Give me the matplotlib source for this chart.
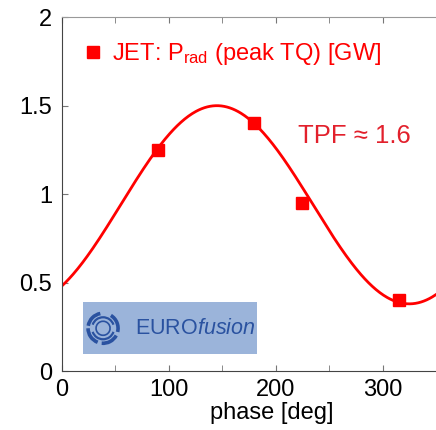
import numpy as np
import matplotlib
matplotlib.use("Agg")
import matplotlib.pyplot as plt
from matplotlib.patches import Rectangle, Arc

plt.rcParams['font.family'] = 'Liberation Sans'
plt.rcParams['mathtext.fontset'] = 'custom'
plt.rcParams['mathtext.rm'] = 'Liberation Sans'
plt.rcParams['mathtext.it'] = 'Liberation Sans:italic'

# measured points (JET, radiated power at peak TQ)
phase = [90, 180, 225, 315]
prad = [1.25, 1.40, 0.95, 0.40]

# sinusoidal fit: mean, amplitude, phase of maximum
fit_mean = 0.94
fit_amp = 0.56
fit_peak = 145

x_fit = np.linspace(0, 350, 400)
y_fit = fit_mean + fit_amp * np.cos(np.radians(x_fit - fit_peak))

fig = plt.figure(figsize=(4.36, 4.30), dpi=100)
ax = fig.add_axes([0.142, 0.137, 0.858, 0.823])

ax.plot(x_fit, y_fit, color='red', lw=2)
ax.plot(phase, prad, 's', color='red', markersize=8.5, ls='none',
        label=r'JET: P$_{\rm rad}$ (peak TQ) [GW]')

ax.set_xlim(0, 350)
ax.set_ylim(0, 2)
ax.set_xticks([0, 100, 200, 300])
ax.set_xticks([50, 150, 250, 350], minor=True)
ax.set_yticks([0, 0.5, 1, 1.5, 2])
ax.set_yticklabels(['0', '0.5', '1', '1.5', '2'])
ax.tick_params(axis='both', which='both', direction='in', length=4,
               color='#777777', labelsize=17, top=True, right=False)
ax.tick_params(axis='x', pad=6)
ax.tick_params(axis='y', pad=7)
for s in ['left', 'bottom']:
    ax.spines[s].set_color('#444444')
ax.spines['top'].set_color('#999999')
ax.spines['right'].set_visible(False)

ax.set_xlabel('phase [deg]', fontsize=17)
ax.xaxis.set_label_coords(0.56, -0.118)
ax.xaxis.label.set_va('center')

leg = ax.legend(loc='upper left', bbox_to_anchor=(0.015, 0.98), frameon=False,
                fontsize=17, labelcolor='red', handlelength=0.8,
                handletextpad=0.4, borderaxespad=0.3)

ax.text(0.63, 0.665, 'TPF \u2248 1.6', transform=ax.transAxes,
        fontsize=18.5, color='#e2202c', va='center', ha='left')

# EUROfusion logo box
ax.add_patch(Rectangle((0.056, 0.048), 0.465, 0.147, transform=ax.transAxes,
                       facecolor='#9bb4da', edgecolor='none', zorder=3))
ax.text(0.196, 0.121, r'EURO$\it{fusion}$', transform=ax.transAxes,
        fontsize=15.5, color='#2a52a0', va='center', ha='left', zorder=4)
cx, cy = 0.110, 0.121
sx, sy = 1 / 374, 1 / 354
logo_col = '#2a52a0'
for r, segs, lw in [(15, [(100, 170), (180, 250), (265, 330), (345, 60)], 2.6),
                    (11, [(20, 160), (200, 340)], 1.6),
                    (7, [(0, 360)], 1.2)]:
    for t1, t2 in segs:
        ax.add_patch(Arc((cx, cy), 2 * r * sx, 2 * r * sy, theta1=t1, theta2=t2,
                         transform=ax.transAxes, color=logo_col, lw=lw, zorder=4))

fig.savefig('out.png', dpi=100)
